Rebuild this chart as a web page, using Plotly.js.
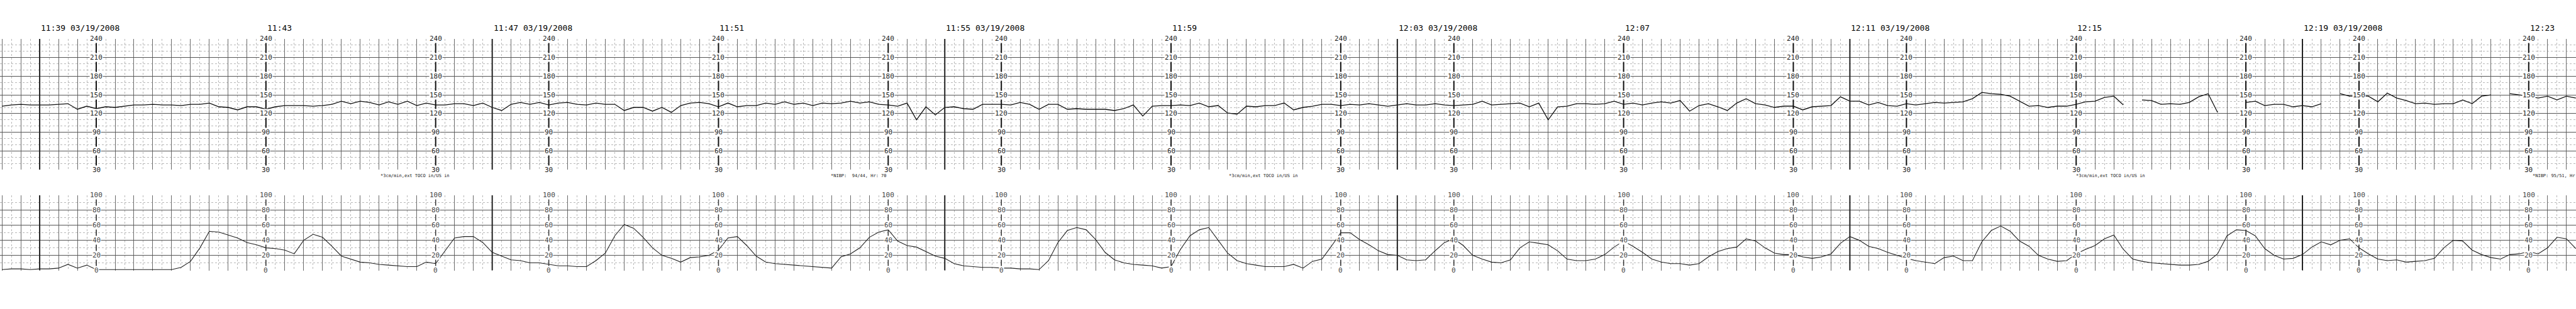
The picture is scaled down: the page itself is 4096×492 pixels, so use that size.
<!DOCTYPE html>
<html>
<head>
<meta charset="utf-8">
<script src="https://cdn.plot.ly/plotly-3.0.1.min.js"></script>
<style>html,body{margin:0;padding:0;background:#fff;}#chart{width:4096px;height:492px;}</style>
</head>
<body>
<div id="chart"></div>
<script>
// Time axis: minutes after 11:39; samples every 10 s starting 11:38:20
const sampleStart = -4 / 6;
const sampleStep = 1 / 6;

// Fetal heart rate (bpm), one value per 10 s
const fhrBpm = [
  132, 134, 135, 134,
  134, 134, 135, 136, 127, 132,
  128, 131, 130, 132, 134, 134,
  135, 134, 134, 133, 135, 135,
  137, 131, 130, 126, 131, 131,
  127, 131, 133, 133, 133, 132,
  133, 135, 140, 136, 140, 138,
  134, 139, 135, 140, 133, 137,
  134, 134, 136, 136, 133, 137,
  130, 125, 135, 138, 135, 138,
  134, 137, 138, 135, 134, 137,
  135, 135, 125, 130, 130, 124,
  130, 122, 133, 137, 138, 136,
  131, 137, 131, 133, 133, 137,
  135, 139, 135, 137, 133, 137,
  136, 137, 140, 137, 139, 135,
  134, 132, 137, 110, 131, 118,
  130, 131, 128, 127, 135, 135,
  135, 134, 138, 135, 127, 135,
  135, 127, 128, 127, 127, 127,
  125, 128, 134, 116, 132, 133,
  133, 134, 133, 137, 131, 133,
  121, 119, 132, 131, 133, 133,
  137, 126, 130, 132, 135, 135,
  133, 135, 134, 136, 134, 132,
  134, 136, 134, 134, 136, 134,
  133, 134, 135, 140, 134, 135,
  136, 137, 131, 137, 110, 131,
  132, 136, 136, 135, 136, 140,
  135, 137, 134, 137, 139, 137,
  141, 124, 133, 136, 131, 125,
  137, 144, 136, 134, 130, 132,
  132, 126, 131, 132, 133, 147,
  140, 140, 134, 138, 133, 132,
  136, 134, 136, 138, 137, 138,
  139, 144, 154, 152, 151, 148,
  140, 132, 133, 130, 132, 132,
  135, 139, 140, 146, 148, 134,
  null, 142, 141, 135, 136, 135,
  138, 147, 152, 122, null, null,
  138, 140, 133, 135, 135, 131,
  133, 131, 136, null, 152, 148,
  148, 148, 139, 153, 145, 141,
  136, 137, 135, 136, 136, 142,
  136, 148, 150, null, 152, 150,
  148, 145, 148, 142, 148, 145
];

// Uterine activity, one value per 10 s
const uaValue = [
  1, 2, 2, 1,
  2, 2, 3, 8, 3, 7,
  1, 1, 1, 1, 1, 1,
  1, 1, 1, 4, 12, 30,
  52, 51, 47, 43, 37, 34,
  30, 29, 27, 22, 40, 48,
  44, 32, 19, 15, 11, 10,
  8, 7, 6, 5, 5, 11,
  9, 26, 43, 45, 45, 37,
  24, 19, 14, 13, 10, 10,
  8, 6, 6, 5, 5, 13,
  23, 46, 61, 56, 44, 30,
  20, 16, 11, 17, 18, 20,
  27, 43, 45, 33, 19, 11,
  9, 8, 7, 6, 5, 4,
  3, 18, 22, 30, 44, 51,
  54, 39, 33, 31, 25, 19,
  16, 9, 6, 5, 4, 4,
  3, 3, 2, 2, 1, 13,
  37, 53, 57, 54, 41, 24,
  14, 10, 8, 7, 6, 3,
  5, 28, 46, 54, 57, 40,
  23, 13, 9, 7, 5, 5,
  5, 8, 3, 12, 15, 32,
  50, 50, 41, 34, 26, 21,
  20, 14, 13, 14, 26, 37,
  42, 33, 20, 15, 11, 10,
  14, 30, 38, 36, 34, 26,
  15, 13, 13, 15, 21, 31,
  39, 32, 24, 15, 11, 9,
  9, 7, 9, 18, 25, 29,
  31, 42, 39, 30, 23, 21,
  21, 18, 16, 18, 22, 36,
  45, 40, 32, 29, 24, 20,
  16, 13, 11, 9, 17, 19,
  13, 13, 38, 53, 59, 52,
  39, 32, 20, 15, 12, 13,
  22, 28, 33, 42, 47, 28,
  15, 12, 10, 9, 8, 7,
  7, 8, 12, 22, 46, 54,
  53, 46, 29, 20, 15, 16,
  21, 31, 38, 34, 40, 42,
  30, 22, 15, 13, 14, 11,
  12, 13, 16, 30, 40, 39,
  27, 21, 17, 15, 21, 22,
  25, 22, 30, 44, 42, 29
];

// Pages of the strip (minutes after 11:39) and their printed times
const pageStarts = [0, 8, 16, 24, 32, 40];
const pageStartLabels = ['11:39', '11:47', '11:55', '12:03', '12:11', '12:19'];
const pageMidLabels = ['11:43', '11:51', '11:59', '12:07', '12:15', '12:23'];
const pageDate = '03/19/2008';
const scaleColumnOffsets = [1, 4, 7];
const fhrScaleLabels = [240, 210, 180, 150, 120, 90, 60, 30];
const uaScaleLabels = [100, 80, 60, 40, 20, 0];

// Printed notes below the heart-rate grid
const noteTimes = [6.0, 13.96, 21.0, 35.97];
const noteTexts = [
  '*3cm/min,ext TOCO in/US in',
  '*NIBP:  94/44, Hr: 70',
  '*3cm/min,ext TOCO in/US in',
  '*3cm/min,ext TOCO in/US in'
];
const lastNoteText = '*NIBP: 95/51, Hr';

const xRange = [-0.7013, 44.836];
const times = fhrBpm.map((_, i) => sampleStart + i * sampleStep);

const mono = 'DejaVu Sans Mono, Liberation Mono, monospace';

const traces = [
  {x: times, y: fhrBpm, xaxis: 'x', yaxis: 'y', mode: 'lines', type: 'scatter',
   line: {color: '#111', width: 1.3}, connectgaps: false, hoverinfo: 'skip'},
  {x: times, y: uaValue, xaxis: 'x2', yaxis: 'y2', mode: 'lines', type: 'scatter',
   line: {color: '#222', width: 1.1}, hoverinfo: 'skip'}
];

const xCommon = {
  range: xRange, showticklabels: false, ticks: '', zeroline: false, showline: false,
  tick0: 0, dtick: 1 / 3, showgrid: true, gridcolor: '#6a6a6a', gridwidth: 1,
  minor: {tick0: 0, dtick: 1 / 6, showgrid: true, gridcolor: '#b8b8b8', griddash: 'dot', gridwidth: 1}
};

const layout = {
  width: 4096, height: 492,
  margin: {l: 0, r: 0, t: 0, b: 0},
  paper_bgcolor: '#fff', plot_bgcolor: '#fff',
  showlegend: false,
  xaxis: Object.assign({}, xCommon, {anchor: 'y', domain: [0, 1]}),
  xaxis2: Object.assign({}, xCommon, {anchor: 'y2', domain: [0, 1], matches: 'x'}),
  yaxis: {
    domain: [0.4508, 0.8742], range: [30, 240], anchor: 'x',
    showticklabels: false, ticks: '', zeroline: false,
    tick0: 30, dtick: 30, showgrid: true, gridcolor: '#555', gridwidth: 1,
    showline: true, mirror: true, linecolor: '#555', linewidth: 1,
    minor: {tick0: 30, dtick: 10, showgrid: true, gridcolor: '#b8b8b8', griddash: 'dot', gridwidth: 1}
  },
  yaxis2: {
    domain: [0.125, 0.3683], range: [0, 100], anchor: 'x2',
    showticklabels: false, ticks: '', zeroline: false,
    tick0: 0, dtick: 20, showgrid: true, gridcolor: '#555', gridwidth: 1,
    showline: true, mirror: true, linecolor: '#555', linewidth: 1,
    minor: {tick0: 0, dtick: 10, showgrid: true, gridcolor: '#b8b8b8', griddash: 'dot', gridwidth: 1}
  },
  shapes: [],
  annotations: []
};

// page boundaries (bold vertical rule at the start of each printed page)
pageStarts.forEach(p => {
  layout.shapes.push({type: 'line', xref: 'x', yref: 'y', x0: p, x1: p, y0: 30, y1: 240,
    line: {color: '#222', width: 2}});
  layout.shapes.push({type: 'line', xref: 'x2', yref: 'y2', x0: p, x1: p, y0: 0, y1: 100,
    line: {color: '#222', width: 2}});
});

// scale columns with their printed values
pageStarts.forEach(p => {
  scaleColumnOffsets.forEach(o => {
    const xc = p + o;
    if (xc > xRange[1]) return;
    layout.shapes.push({type: 'line', xref: 'x', yref: 'y', x0: xc, x1: xc, y0: 30, y1: 240,
      line: {color: '#111', width: 2}});
    layout.shapes.push({type: 'line', xref: 'x2', yref: 'y2', x0: xc, x1: xc, y0: 0, y1: 100,
      line: {color: '#333', width: 1.5}});
    fhrScaleLabels.forEach(v => {
      layout.annotations.push({xref: 'x', yref: 'y', x: xc, y: v, text: String(v), showarrow: false,
        bgcolor: '#fff', borderpad: 0, font: {family: mono, size: 11, color: '#222'}});
    });
    uaScaleLabels.forEach(v => {
      layout.annotations.push({xref: 'x2', yref: 'y2', x: xc, y: v, text: String(v), showarrow: false,
        bgcolor: '#fff', borderpad: 0, font: {family: mono, size: 11, color: '#444'}});
    });
  });
});

// printed times above each page
pageStarts.forEach((p, k) => {
  layout.annotations.push({xref: 'x', yref: 'paper', x: p, y: 0.89, xanchor: 'left', yanchor: 'bottom',
    text: pageStartLabels[k] + ' ' + pageDate, showarrow: false,
    font: {family: mono, size: 13, color: '#000'}});
  layout.annotations.push({xref: 'x', yref: 'paper', x: p + 4, y: 0.89, xanchor: 'left', yanchor: 'bottom',
    text: pageMidLabels[k], showarrow: false,
    font: {family: mono, size: 13, color: '#000'}});
});

// notes under the heart-rate grid
noteTimes.forEach((t, k) => {
  layout.annotations.push({xref: 'x', yref: 'paper', x: t, y: 0.4317, xanchor: 'left', yanchor: 'middle',
    text: noteTexts[k], showarrow: false, font: {family: mono, size: 7, color: '#222'}});
});
// last note runs into the right edge of the strip
layout.annotations.push({xref: 'paper', yref: 'paper', x: 1, y: 0.4317, xanchor: 'right', yanchor: 'middle',
  text: lastNoteText, showarrow: false, font: {family: mono, size: 7, color: '#222'}});

Plotly.newPlot('chart', traces, layout, {staticPlot: true, displayModeBar: false});
</script>
</body>
</html>
